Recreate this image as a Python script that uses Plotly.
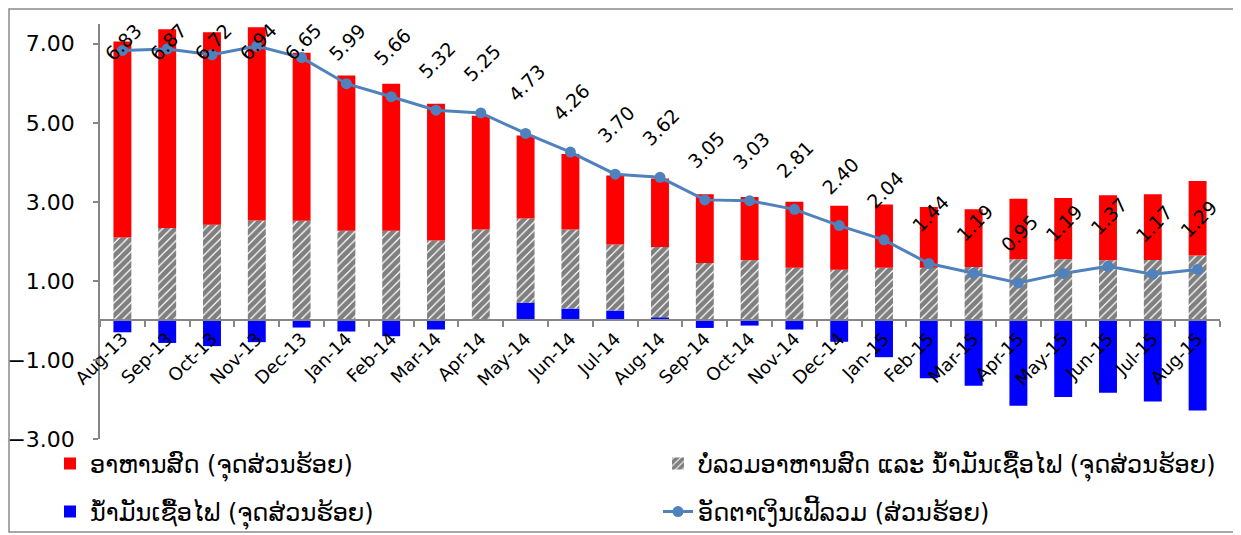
import plotly.graph_objects as go

months = ["Aug-13", "Sep-13", "Oct-13", "Nov-13", "Dec-13", "Jan-14", "Feb-14", "Mar-14",
          "Apr-14", "May-14", "Jun-14", "Jul-14", "Aug-14", "Sep-14", "Oct-14", "Nov-14",
          "Dec-14", "Jan-15", "Feb-15", "Mar-15", "Apr-15", "May-15", "Jun-15", "Jul-15", "Aug-15"]
headline = [6.83, 6.87, 6.72, 6.94, 6.65, 5.99, 5.66, 5.32, 5.25, 4.73, 4.26, 3.70, 3.62,
            3.05, 3.03, 2.81, 2.40, 2.04, 1.44, 1.19, 0.95, 1.19, 1.37, 1.17, 1.29]
food = [4.96, 5.03, 4.87, 4.89, 4.25, 3.93, 3.72, 3.46, 2.88, 2.10, 1.91, 1.75, 1.73,
        1.74, 1.60, 1.67, 1.62, 1.60, 1.54, 1.46, 1.53, 1.55, 1.65, 1.66, 1.89]
core = [2.10, 2.34, 2.42, 2.53, 2.52, 2.27, 2.27, 2.02, 2.30, 2.13, 2.00, 1.67, 1.78,
        1.45, 1.52, 1.33, 1.28, 1.33, 1.33, 1.35, 1.55, 1.55, 1.52, 1.53, 1.64]
fuel = [-0.30, -0.57, -0.65, -0.55, -0.18, -0.28, -0.40, -0.23, 0.00, 0.45, 0.30, 0.25, 0.08,
        -0.19, -0.13, -0.23, -0.54, -0.93, -1.46, -1.65, -2.16, -1.94, -1.83, -2.05, -2.28]

name_food = "ອາຫານສົດ (ຈຸດສ່ວນຮ້ອຍ)"
name_core = "ບໍ່ລວມອາຫານສົດ ແລະ ນ້ຳມັນເຊື້ອໄຟ (ຈຸດສ່ວນຮ້ອຍ)"
name_fuel = "ນ້ຳມັນເຊື້ອໄຟ (ຈຸດສ່ວນຮ້ອຍ)"
name_line = "ອັດຕາເງິນເຟີ້ລວມ (ສ່ວນຮ້ອຍ)"

FONT = "DejaVu Sans"
OFF = 8  # page body margin in the browser
W, H = 1241 - OFF, 535 - OFF
# desired plot-area edges in screen pixels: left 100, right 1220, top 24, bottom 439
L, R, T, B = 100 - OFF, W - (1220 - OFF), 24 - OFF, H - (439 - OFF)
ymin, ymax = -3, 7.5
plot_w = W - L - R
plot_h = H - T - B
px_per = plot_h / (ymax - ymin)

def px_x(p):  # screen px -> paper
    return (p - OFF - L) / plot_w

def px_y(p):
    return (H - B - (p - OFF)) / plot_h

fig = go.Figure()
fig.add_bar(x=months, y=fuel, name=name_fuel, marker=dict(color="#0000FF", line=dict(width=0)),
            legend="legend3")
fig.add_bar(x=months, y=core, name=name_core,
            marker=dict(color="white", line=dict(width=0),
                        pattern=dict(shape="/", fgcolor="black", bgcolor="white", size=6, solidity=0.8)),
            legend="legend2")
fig.add_bar(x=months, y=food, name=name_food, marker=dict(color="#FF0000", line=dict(width=0)),
            legend="legend")
fig.add_scatter(x=months, y=headline, name=name_line, mode="lines+markers",
                line=dict(color="#4F81BD", width=3), marker=dict(size=11, color="#4F81BD"),
                legend="legend4")

for m, v in zip(months, headline):
    py = T + (ymax - v) * px_per + OFF
    target = max(py - 50, 42)
    fig.add_annotation(x=m, y=v, text=f"{v:.2f}", textangle=-45, showarrow=False,
                       xanchor="center", yanchor="middle", xshift=1, yshift=py - target,
                       font=dict(size=19, family=FONT, color="black"))

fig.add_shape(type="rect", xref="paper", yref="paper",
              x0=px_x(9), x1=px_x(1238), y0=px_y(532), y1=px_y(9),
              line=dict(color="#8A8A8A", width=1.5), fillcolor="rgba(0,0,0,0)", layer="below")

legend_common = dict(orientation="h", xanchor="left", yanchor="middle",
                     font=dict(size=24, family=FONT, color="black"),
                     bgcolor="rgba(0,0,0,0)")
fig.update_layout(
    width=W, height=H,
    margin=dict(l=L, r=R, t=T, b=B, autoexpand=False),
    paper_bgcolor="white", plot_bgcolor="white",
    barmode="relative", bargap=0.6,
    font=dict(family=FONT, color="black"),
    showlegend=True,
    legend=dict(x=px_x(50), y=px_y(464), **legend_common),
    legend2=dict(x=px_x(658), y=px_y(464), **legend_common),
    legend3=dict(x=px_x(50), y=px_y(512), **legend_common),
    legend4=dict(x=px_x(658), y=px_y(512), **legend_common),
    xaxis=dict(type="category", anchor="free", position=(0 - ymin) / (ymax - ymin),
               range=[-0.5, len(months) - 0.5], autorange=False,
               showline=True, linecolor="#868686", linewidth=1.5,
               ticks="outside", ticklen=6, tickcolor="#868686", tickwidth=1.5, tickson="boundaries",
               tickangle=-45, tickfont=dict(size=18, family=FONT, color="black"),
               showgrid=False, zeroline=False, automargin=False),
    yaxis=dict(range=[ymin, ymax], tickvals=[7, 5, 3, 1, -1, -3], tickformat=".2f",
               showline=True, linecolor="#868686", linewidth=1.5,
               ticks="outside", ticklen=5, tickcolor="#868686", tickwidth=1.5,
               tickfont=dict(size=22, family=FONT, color="black"), ticklabelstandoff=14,
               showgrid=False, zeroline=False, automargin=False),
)

fig.write_html("out.html")
